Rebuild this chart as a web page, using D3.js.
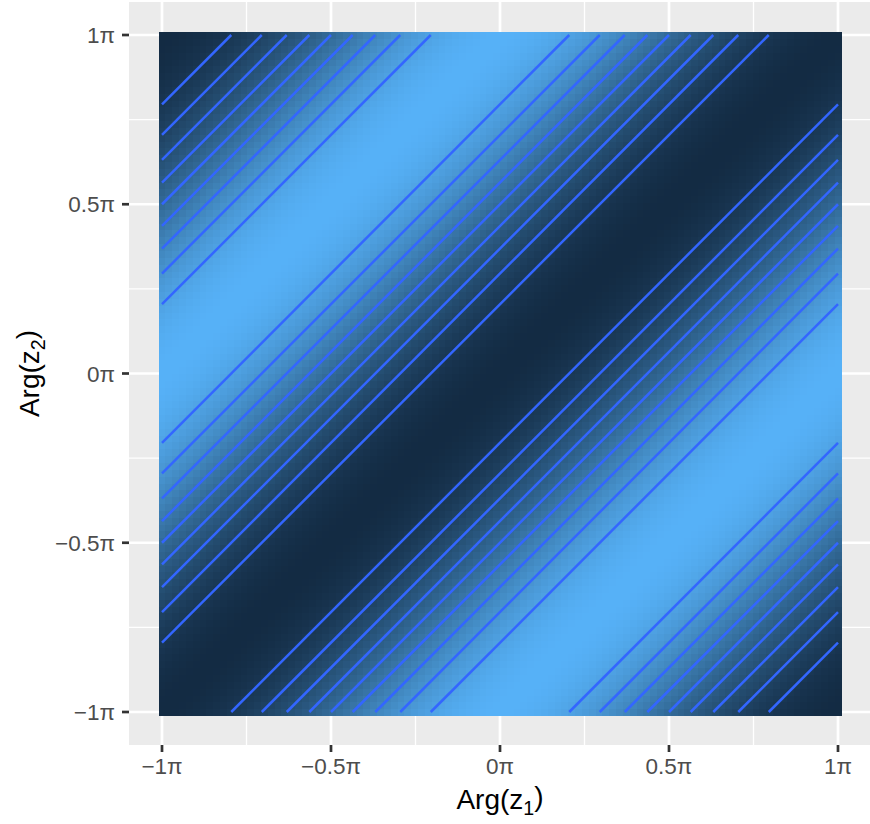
<!DOCTYPE html>
<html>
<head>
<meta charset="utf-8">
<script src="https://cdn.jsdelivr.net/npm/d3@7"></script>
<style>
  html, body { margin: 0; padding: 0; background: #ffffff; }
  svg { display: block; font-family: "Liberation Sans", Arial, sans-serif; }
</style>
</head>
<body>
<svg id="chart" width="870" height="824"></svg>
<script>
const PI = Math.PI

// axis breaks (in units of pi) and their labels
const majorBreaks = [-1, -0.5, 0, 0.5, 1]
const minorBreaks = [-0.75, -0.25, 0.25, 0.75]
const tickLabels = ['\u22121\u03c0', '\u22120.5\u03c0', '0\u03c0', '0.5\u03c0', '1\u03c0']

// contour levels of cos(Arg z1 - Arg z2)
const contourLevels = [-0.8, -0.6, -0.4, -0.2, 0, 0.2, 0.4, 0.6, 0.8]

// raster grid resolution
const gridSize = 100

const svg = d3.select('#chart')

const x = d3.scaleLinear().domain([-PI, PI]).range([162, 838])
const y = d3.scaleLinear().domain([-PI, PI]).range([712, 35])
const pad = 33
const tickLen = 7

const panel = {
  left: x.range()[0] - pad,
  right: x.range()[1] + pad,
  top: y.range()[1] - pad,
  bottom: y.range()[0] + pad
}

// panel background + grid
svg.append('rect')
  .attr('x', panel.left)
  .attr('y', panel.top)
  .attr('width', panel.right - panel.left)
  .attr('height', panel.bottom - panel.top)
  .attr('fill', '#ebebeb')

const grid = svg.append('g')
grid.selectAll('.vminor')
  .data(minorBreaks)
  .join('line')
    .attr('class', 'vminor')
    .attr('x1', d => x(d * PI)).attr('x2', d => x(d * PI))
    .attr('y1', panel.top).attr('y2', panel.bottom)
    .attr('stroke', '#fff').attr('stroke-width', 1.35)
grid.selectAll('.hminor')
  .data(minorBreaks)
  .join('line')
    .attr('class', 'hminor')
    .attr('y1', d => y(d * PI)).attr('y2', d => y(d * PI))
    .attr('x1', panel.left).attr('x2', panel.right)
    .attr('stroke', '#fff').attr('stroke-width', 1.35)
grid.selectAll('.vmajor')
  .data(majorBreaks)
  .join('line')
    .attr('class', 'vmajor')
    .attr('x1', d => x(d * PI)).attr('x2', d => x(d * PI))
    .attr('y1', panel.top).attr('y2', panel.bottom)
    .attr('stroke', '#fff').attr('stroke-width', 2.7)
grid.selectAll('.hmajor')
  .data(majorBreaks)
  .join('line')
    .attr('class', 'hmajor')
    .attr('y1', d => y(d * PI)).attr('y2', d => y(d * PI))
    .attr('x1', panel.left).attr('x2', panel.right)
    .attr('stroke', '#fff').attr('stroke-width', 2.7)

// raster of -cos(x - y): dark along the diagonal
const step = 2 * PI / (gridSize - 1)
const cells = []
for (let i = 0; i < gridSize; i++) {
  for (let j = 0; j < gridSize; j++) {
    const a = -PI + i * step
    const b = -PI + j * step
    cells.push({ a, b, v: -Math.cos(a - b) })
  }
}
const fill = d3.scaleLinear()
  .domain(d3.extent(cells, d => d.v))
  .range(['#132B43', '#56B1F7'])
  .interpolate(d3.interpolateLab)

const cw = x(step) - x(0)
const ch = y(0) - y(step)
svg.append('g')
  .attr('shape-rendering', 'crispEdges')
  .selectAll('rect')
  .data(cells)
  .join('rect')
    .attr('x', d => x(d.a) - cw / 2)
    .attr('y', d => y(d.b) - ch / 2)
    .attr('width', cw + 0.6)
    .attr('height', ch + 0.6)
    .attr('fill', d => fill(d.v))

// contour lines: cos(x - y) = level  ->  x - y = +-acos(level) (+-2pi)
const segments = []
contourLevels.forEach(level => {
  const a = Math.acos(level)
  ;[a, -a, a - 2 * PI, 2 * PI - a].forEach(d => {
    const x0 = Math.max(-PI, -PI + d)
    const x1 = Math.min(PI, PI + d)
    if (x1 > x0) segments.push({ x0, y0: x0 - d, x1, y1: x1 - d })
  })
})

svg.append('g')
  .selectAll('line')
  .data(segments)
  .join('line')
    .attr('x1', d => x(d.x0)).attr('y1', d => y(d.y0))
    .attr('x2', d => x(d.x1)).attr('y2', d => y(d.y1))
    .attr('stroke', '#3366FF')
    .attr('stroke-width', 2.5)
    .attr('stroke-linecap', 'butt')

// axes
const xAxis = svg.append('g')
xAxis.selectAll('line')
  .data(majorBreaks)
  .join('line')
    .attr('x1', d => x(d * PI)).attr('x2', d => x(d * PI))
    .attr('y1', panel.bottom).attr('y2', panel.bottom + tickLen)
    .attr('stroke', '#333333').attr('stroke-width', 2.7)
xAxis.selectAll('text')
  .data(majorBreaks)
  .join('text')
    .attr('x', d => x(d * PI))
    .attr('y', panel.bottom + 29)
    .attr('text-anchor', 'middle')
    .attr('font-size', 22.5)
    .attr('fill', '#4d4d4d')
    .text((d, i) => tickLabels[i])

const yAxis = svg.append('g')
yAxis.selectAll('line')
  .data(majorBreaks)
  .join('line')
    .attr('y1', d => y(d * PI)).attr('y2', d => y(d * PI))
    .attr('x1', panel.left - tickLen).attr('x2', panel.left)
    .attr('stroke', '#333333').attr('stroke-width', 2.7)
yAxis.selectAll('text')
  .data(majorBreaks)
  .join('text')
    .attr('x', panel.left - tickLen - 7)
    .attr('y', d => y(d * PI) + 8)
    .attr('text-anchor', 'end')
    .attr('font-size', 22.5)
    .attr('fill', '#4d4d4d')
    .text((d, i) => tickLabels[i])

// axis titles
function title (g, sub) {
  g.append('tspan').text('Arg(z')
  g.append('tspan').attr('font-size', '0.7em').attr('dy', '0.3em').text(sub)
  g.append('tspan').attr('dy', '-0.3em').text(')')
}

svg.append('text')
  .attr('x', (panel.left + panel.right) / 2)
  .attr('y', 809)
  .attr('text-anchor', 'middle')
  .attr('font-size', 28)
  .attr('fill', '#000')
  .call(title, '1')

svg.append('text')
  .attr('transform', `translate(39, ${(panel.top + panel.bottom) / 2}) rotate(-90)`)
  .attr('text-anchor', 'middle')
  .attr('font-size', 28)
  .attr('fill', '#000')
  .call(title, '2')
</script>
</body>
</html>
